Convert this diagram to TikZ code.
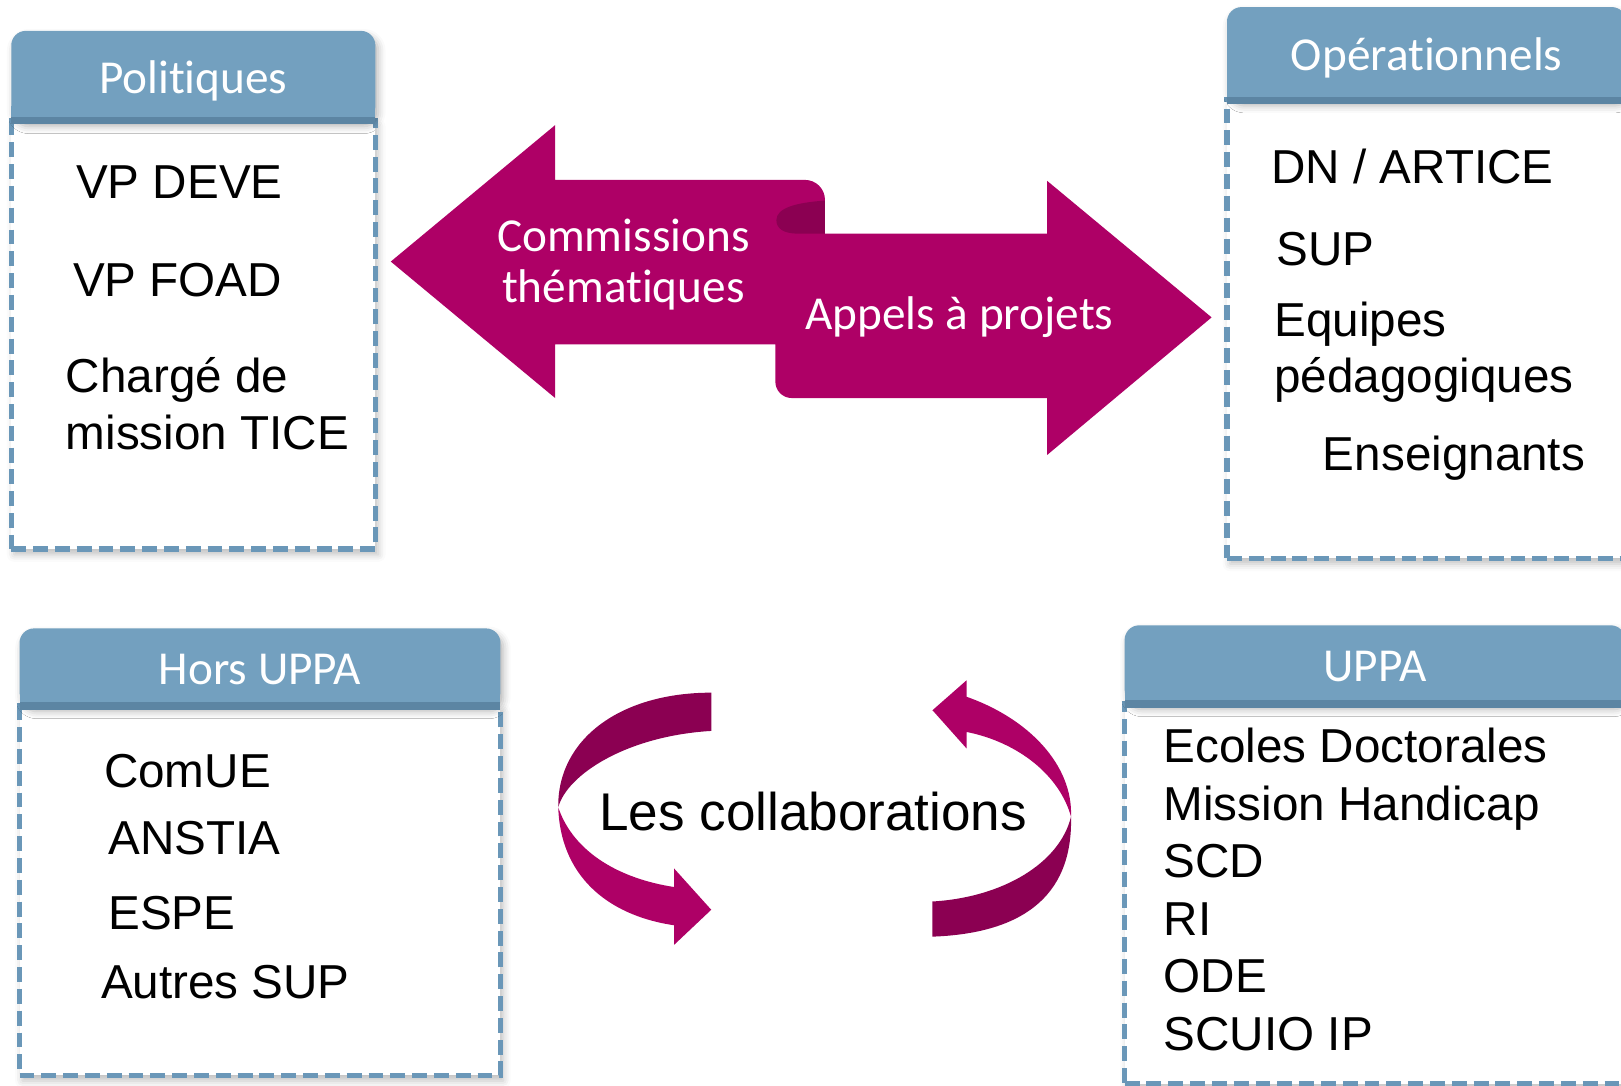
\documentclass[tikz,border=0pt]{standalone}
\usepackage{fontspec}
\setmainfont{Liberation Sans}
\newfontfamily\calib[Ligatures=NoCommon]{Carlito}
\usetikzlibrary{positioning, shadows.blur}

\definecolor{hdblue}{RGB}{115,160,191}
\definecolor{hdline}{RGB}{92,133,163}
\definecolor{dashblue}{RGB}{106,151,184}
\definecolor{plum}{RGB}{174,0,102}
\definecolor{plumdark}{RGB}{139,0,82}

\begin{document}
\begin{tikzpicture}[
      x=0.01cm, y=-0.01cm,
      headbox/.style ={rectangle, rounded corners=4pt, fill=hdblue, text=white, outer sep=0pt,
                       text height=9.5pt, text depth=0pt, font=\calib\fontsize{13}{15}\selectfont,
                       blur shadow={shadow xshift=0.8pt, shadow yshift=-1.5pt, shadow opacity=30, shadow blur radius=2pt}},
      bodybox/.style ={rectangle, draw=dashblue, fill=white, line width=1.5pt, outer sep=0pt,
                       dash pattern=on 4.1pt off 1.9pt,
                       blur shadow={shadow xshift=0.8pt, shadow yshift=-1.5pt, shadow opacity=25, shadow blur radius=2pt}},
      entry/.style   ={anchor=base west, inner sep=0pt, font=\fontsize{13.1}{15.8}\selectfont},
      arrowtext/.style={text=white, align=center, font=\calib\fontsize{13}{14.2}\selectfont}
    ]
    \clip (0,0) rectangle (1568,1050);

    % Politiques
    \node[bodybox, minimum width=3.52cm, minimum height=4.14cm] (PolB) at (187,324) {};
    \node[headbox, minimum width=3.52cm, minimum height=0.87cm, above=0pt of PolB] (PolH) {Politiques};
    \fill[hdblue] ([yshift=4pt]PolH.south west) rectangle (PolH.south east);
    \draw[hdline, line width=2pt] (PolH.south west) -- (PolH.south east);
    \node[entry] (vp1) at (73,192) {VP DEVE};
    \node[entry] (vp2) at (70,287) {VP FOAD};
    \node[entry] (cm1) at (63,380) {Chargé de};
    \node[entry] (cm2) at (63,435) {mission TICE};

    % Operationnels
    \node[bodybox, minimum width=3.86cm, minimum height=4.43cm] (OpB) at (1380,318.5) {};
    \node[headbox, minimum width=3.86cm, minimum height=0.90cm, above=0pt of OpB] (OpH) {Opérationnels};
    \fill[hdblue] ([yshift=4pt]OpH.south west) rectangle (OpH.south east);
    \draw[hdline, line width=2pt] (OpH.south west) -- (OpH.south east);
    \node[entry] (op1) at (1229,177) {DN / ARTICE};
    \node[entry] (op2) at (1234,257) {SUP};
    \node[entry] (op3) at (1232,325) {Equipes};
    \node[entry] (op4) at (1232,380) {pédagogiques};
    \node[entry] (op5) at (1279,455) {Enseignants};

    % Hors UPPA
    \node[bodybox, minimum width=4.65cm, minimum height=3.57cm] (HoB) at (251.5,861.5) {};
    \node[headbox, minimum width=4.65cm, minimum height=0.75cm, above=0pt of HoB] (HoH) {Hors UPPA};
    \fill[hdblue] ([yshift=4pt]HoH.south west) rectangle (HoH.south east);
    \draw[hdline, line width=2pt] (HoH.south west) -- (HoH.south east);
    \node[entry] (ho1) at (100,762) {ComUE};
    \node[entry] (ho2) at (104,827) {ANSTIA};
    \node[entry] (ho3) at (104,899) {ESPE};
    \node[entry] (ho4) at (97,966)  {Autres SUP};

    % UPPA
    \node[bodybox, minimum width=4.84cm, minimum height=3.67cm] (UpB) at (1330,864.5) {};
    \node[headbox, minimum width=4.84cm, minimum height=0.76cm, above=0pt of UpB] (UpH) {UPPA};
    \fill[hdblue] ([yshift=4pt]UpH.south west) rectangle (UpH.south east);
    \draw[hdline, line width=2pt] (UpH.south west) -- (UpH.south east);
    \node[entry] (up1) at (1125,738)  {Ecoles Doctorales};
    \node[entry] (up2) at (1125,794)  {Mission Handicap};
    \node[entry] (up3) at (1125,849)  {SCD};
    \node[entry] (up4) at (1125,905)  {RI};
    \node[entry] (up5) at (1125,960)  {ODE};
    \node[entry] (up6) at (1125,1016) {SCUIO IP};

    % Double fleche
    \fill[plum] (378,253) -- (537,121) -- (537,174) [rounded corners=5.5pt] -- (798,174)
      [sharp corners] -- (798,226) -- (1013,226) -- (1013,175) -- (1172,307) -- (1013,440) -- (1013,385)
      [rounded corners=4.5pt] -- (750,385) [sharp corners] -- (750,333) -- (537,333) -- (537,385) -- cycle;
    \fill[plumdark] (798,194) .. controls (770,196) and (751,201) .. (751,213)
      .. controls (751,221) and (758,226) .. (772,226) -- (798,226) -- cycle;
    \node[arrowtext] (comm)  at (603,256) {Commissions\\thématiques};
    \node[arrowtext] (appel) at (928,307) {Appels à projets};

    % Fleches circulaires
    \fill[plumdark] (688,670) .. controls (600,670) and (539,715) .. (540,781)
      .. controls (548,750) and (605,712) .. (688,707) -- cycle;
    \fill[plum] (540,781) .. controls (542,845) and (585,885) .. (652,895) -- (652,914) -- (688,880)
      -- (652,840) -- (652,858) .. controls (600,850) and (555,825) .. (540,781) -- cycle;
    \fill[plum] (1036,790) .. controls (1038,740) and (995,695) .. (935,674) -- (935,658) -- (902,687)
      -- (935,724) -- (935,708) .. controls (985,718) and (1025,750) .. (1036,790) -- cycle;
    \fill[plumdark] (1036,790) .. controls (1038,870) and (985,903) .. (902,906) -- (902,872)
      .. controls (970,868) and (1025,835) .. (1036,790) -- cycle;
    \node[entry, font=\fontsize{14.6}{17}\selectfont] (collab) at (579,803) {Les collaborations};

  \end{tikzpicture}
\end{document}
